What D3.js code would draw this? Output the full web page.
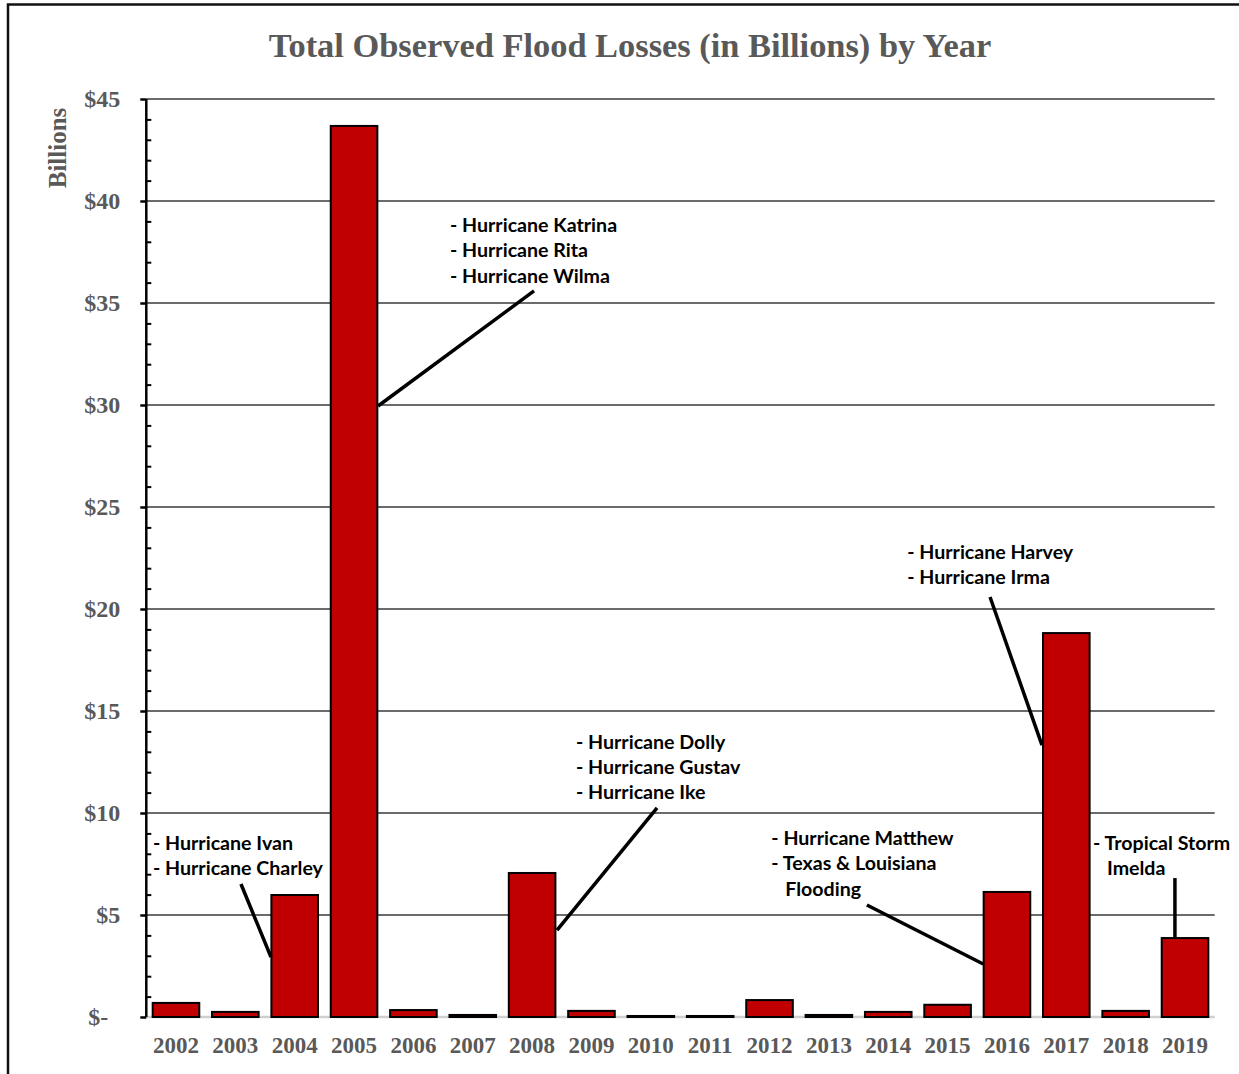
<!DOCTYPE html>
<html>
<head>
<meta charset="utf-8">
<script src="https://cdn.jsdelivr.net/npm/d3@7"></script>
<style>
  html, body { margin: 0; padding: 0; background: #fff; }
  svg { display: block; }
</style>
</head>
<body>
<svg id="chart" width="1239" height="1074"></svg>
<script>
// ---- data ----
const years = ["2002","2003","2004","2005","2006","2007","2008","2009","2010","2011","2012","2013","2014","2015","2016","2017","2018","2019"];
const losses = [0.69, 0.25, 5.98, 43.68, 0.34, 0.10, 7.06, 0.30, 0.05, 0.05, 0.83, 0.10, 0.25, 0.60, 6.13, 18.82, 0.30, 3.87];
const yTicks = [0, 5, 10, 15, 20, 25, 30, 35, 40, 45];
const titleText = "Total Observed Flood Losses (in Billions) by Year";
const yTitle = "Billions";

// annotations: text in data coordinates (x as band index, y as value)
const annotations = [
  { lines: [["- Hurricane Ivan",0],["- Hurricane Charley",0]], tx: 0.113, ty: [8.53, 7.30],
    leader: [[1.595, 6.52],[2.10, 2.94]] },
  { lines: [["- Hurricane Katrina",0],["- Hurricane Rita",0],["- Hurricane Wilma",0]], tx: 5.117, ty: [38.82, 37.60, 36.32],
    leader: [[6.532, 35.59],[3.905, 29.95]] },
  { lines: [["- Hurricane Dolly",0],["- Hurricane Gustav",0],["- Hurricane Ike",0]], tx: 7.24, ty: [13.48, 12.25, 11.03],
    leader: [[8.605, 10.25],[6.92, 4.26]] },
  { lines: [["- Hurricane Matthew",0],["- Texas & Louisiana",0],["Flooding",0.235]], tx: 10.53, ty: [8.77, 7.55, 6.27],
    leader: [[12.14, 5.49],[14.10, 2.60]] },
  { lines: [["- Hurricane Harvey",0],["- Hurricane Irma",0]], tx: 12.82, ty: [22.79, 21.57],
    leader: [[14.215, 20.59],[15.09, 13.33]] },
  { lines: [["- Tropical Storm",0],["Imelda",0.235]], tx: 15.95, ty: [8.53, 7.30],
    leader: [[17.33, 6.81],[17.33, 3.87]] }
];

// ---- layout ----
const svg = d3.select("#chart");
const pLeft = 146.3, pRight = 1214.7, pTop = 99, pBottom = 1017;
const gray = "#595959";
const serif = "'Liberation Serif', 'Times New Roman', serif";
const sans = "Lato, 'Open Sans', sans-serif";

const x = d3.scaleBand().domain(years).range([pLeft, pRight]).paddingInner(0.215).paddingOuter(0.1075);
const xi = d3.scaleLinear().domain([0, years.length]).range([pLeft, pRight]);
const y = d3.scaleLinear().domain([0, 45]).range([pBottom, pTop]);

// outer border
svg.append("rect").attr("x", 8).attr("y", 4.5).attr("width", 1300).attr("height", 1200)
  .attr("fill", "none").attr("stroke", "#111").attr("stroke-width", 2.5);

// title
svg.append("text").attr("x", 630).attr("y", 57).attr("text-anchor", "middle")
  .attr("font-family", serif).attr("font-weight", "bold").attr("font-size", 34.4)
  .attr("fill", gray).text(titleText);

// y title
svg.append("text").attr("transform", "translate(66,148) rotate(-90)").attr("text-anchor", "middle")
  .attr("font-family", serif).attr("font-weight", "bold").attr("font-size", 25)
  .attr("fill", gray).text(yTitle);

// gridlines
svg.append("g").selectAll("line").data(yTicks.filter(d => d > 0)).join("line")
  .attr("x1", pLeft).attr("x2", pRight).attr("y1", d => y(d)).attr("y2", d => y(d))
  .attr("stroke", "#3a3a3a").attr("stroke-width", 1.5);
// baseline
svg.append("line").attr("x1", pLeft).attr("x2", pRight).attr("y1", y(0)).attr("y2", y(0))
  .attr("stroke", "#d0d0d0").attr("stroke-width", 2.5);

// bars
svg.append("g").selectAll("rect").data(years).join("rect")
  .attr("x", d => x(d)).attr("width", x.bandwidth())
  .attr("y", (d, i) => y(losses[i])).attr("height", (d, i) => y(0) - y(losses[i]))
  .attr("fill", "#C00000").attr("stroke", "#000").attr("stroke-width", 2);

// y axis with major ticks (outside) and minor ticks (inside)
const yAxis = d3.axisLeft(y).tickValues(yTicks).tickSize(6).tickPadding(20)
  .tickFormat(d => d === 0 ? "$-" : "$" + d);
const ya = svg.append("g").attr("transform", `translate(${pLeft},0)`).call(yAxis);
ya.select(".domain").attr("stroke", "#000").attr("stroke-width", 2.5).attr("d", `M0,${y(0)}V${y(45)}`);
ya.selectAll(".tick line").attr("stroke", "#000").attr("stroke-width", 2.5);
ya.selectAll(".tick text").attr("font-family", serif).attr("font-weight", "bold")
  .attr("font-size", 24).attr("fill", gray)
  .attr("dx", d => d === 0 ? -12 : 0);
const minor = d3.range(1, 45).filter(d => d % 5 !== 0);
const yMinor = d3.axisRight(y).tickValues(minor).tickSize(5).tickFormat("");
const ym = svg.append("g").attr("transform", `translate(${pLeft},0)`).call(yMinor);
ym.select(".domain").remove();
ym.selectAll(".tick line").attr("stroke", "#000").attr("stroke-width", 2);

// x axis labels
const xAxis = d3.axisBottom(x).tickSize(0).tickPadding(20);
const xa = svg.append("g").attr("transform", `translate(0,${pBottom})`).call(xAxis);
xa.select(".domain").remove();
xa.selectAll(".tick text").attr("font-family", serif).attr("font-weight", "bold")
  .attr("font-size", 23).attr("fill", gray);

// annotations
const ag = svg.append("g");
annotations.forEach(a => {
  ag.append("line")
    .attr("x1", xi(a.leader[0][0])).attr("y1", y(a.leader[0][1]))
    .attr("x2", xi(a.leader[1][0])).attr("y2", y(a.leader[1][1]))
    .attr("stroke", "#000").attr("stroke-width", 3.5);
  a.lines.forEach((ln, k) => {
    ag.append("text").attr("x", xi(a.tx + ln[1])).attr("y", y(a.ty[k])).attr("dy", "0.36em")
      .attr("font-family", sans).attr("font-weight", "bold").attr("font-size", 19.6)
      .attr("fill", "#000").text(ln[0]);
  });
});
</script>
</body>
</html>
